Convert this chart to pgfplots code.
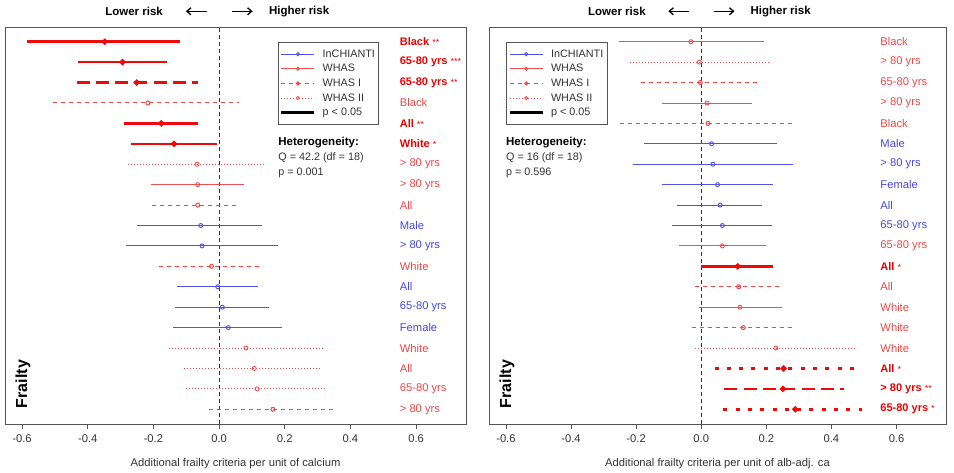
\documentclass[border=0pt]{standalone}
\usepackage{pgfplots}
\pgfplotsset{compat=1.18}
\usetikzlibrary{arrows.meta}
\usepackage{fontspec}
\setmainfont{Liberation Sans}

\definecolor{cblue}{RGB}{80,80,235}
\definecolor{clight}{RGB}{240,80,80}
\definecolor{cdash}{RGB}{245,70,70}
\definecolor{cbold}{RGB}{238,10,10}
\definecolor{tblue}{RGB}{70,70,230}
\definecolor{tlight}{RGB}{240,70,70}
\definecolor{tbold}{RGB}{235,0,0}
\definecolor{frame}{RGB}{85,85,85}

\newcommand{\regfont}{\fontsize{11.2bp}{13bp}\selectfont}
\newcommand{\boldfont}{\fontsize{11bp}{13bp}\selectfont\bfseries}
\newcommand{\stars}[1]{{\fontsize{9bp}{9bp}\selectfont\mdseries #1}}

% one confidence interval per row: y, lower, estimate, upper, style
\newcommand{\ci}[5]{\addplot[#5] coordinates {(#2,#1) (#3,#1) (#4,#1)};}
% row label: y, style, text
\newcommand{\lab}[3]{\node[anchor=west,inner sep=0pt,#2] at (axis cs:0.55,#1) {#3};}

\tikzset{
  tb/.style={text=tblue, font=\regfont},
  tl/.style={text=tlight, font=\regfont},
  ts/.style={text=tbold, font=\boldfont},
  risk/.style={-{Straight Barb[length=4bp,width=7bp]}, line width=1.3bp, black},
}

\pgfplotsset{
  inch/.style={forget plot, color=cblue, line width=0.9bp,
    mark=o, mark indices={2}, mark size=2bp},
  whas/.style={forget plot, color=clight, line width=0.9bp,
    mark=o, mark indices={2}, mark size=2bp},
  whasI/.style={forget plot, color=cdash, line width=1bp,
    dash pattern=on 4bp off 4bp,
    mark=o, mark indices={2}, mark size=2bp, every mark/.append style={solid}},
  whasII/.style={forget plot, color=clight, line width=0.9bp,
    dash pattern=on 1bp off 2bp,
    mark=o, mark indices={2}, mark size=2bp, every mark/.append style={solid}},
  sig/.style={forget plot, color=cbold, line width=2.6bp,
    mark=o, mark indices={2}, mark size=1.6bp},
  sigI/.style={forget plot, color=cbold, line width=2.6bp,
    dash pattern=on 13bp off 6.3bp,
    mark=o, mark indices={2}, mark size=1.6bp, every mark/.append style={solid}},
  sigII/.style={forget plot, color=cbold, line width=2.6bp,
    dash pattern=on 4bp off 8.3bp,
    mark=o, mark indices={2}, mark size=1.6bp, every mark/.append style={solid}},
  forest/.style={
    scale only axis, clip=false,
    xmin=-0.652, xmax=0.752, ymin=0.28, ymax=19.72,
    axis line style={frame, line width=0.9bp},
    xtick={-0.6,-0.4,-0.2,0,0.2,0.4,0.6},
    xticklabels={-0.6,-0.4,-0.2,0.0,0.2,0.4,0.6},
    xtick pos=bottom, tick align=outside, ytick=\empty,
    major tick length=5bp,
    every tick/.style={frame, line width=0.8bp},
    ticklabel style={font=\regfont, text=black!80},
    xticklabel style={yshift=-2bp},
    label style={font=\regfont, text=black!80},
    xlabel style={at={(axis description cs:0.5,0)}, anchor=center, yshift=-40bp},
    legend cell align=left,
    legend style={draw=frame, line width=0.9bp, fill=white,
      font=\fontsize{10.8bp}{12bp}\selectfont, text=black!80,
      inner xsep=2bp, inner ysep=5.5bp, row sep=1.6bp, column sep=5bp,
      anchor=north west},
    legend image code/.code={\draw[mark repeat=2,mark phase=2]
      plot coordinates {(0bp,0bp) (16.5bp,0bp) (33bp,0bp)};},
  },
}

\newcommand{\legendset}{%
  \addlegendimage{color=cblue, line width=0.9bp, mark=o, mark size=1.6bp}
  \addlegendentry{InCHIANTI}
  \addlegendimage{color=clight, line width=0.9bp, mark=o, mark size=1.6bp}
  \addlegendentry{WHAS}
  \addlegendimage{color=cdash, line width=1bp, dash pattern=on 4bp off 4bp, mark=o, mark size=1.6bp, every mark/.append style={solid}}
  \addlegendentry{WHAS I}
  \addlegendimage{color=clight, line width=0.9bp, dash pattern=on 1bp off 2bp, mark=o, mark size=1.6bp, every mark/.append style={solid}}
  \addlegendentry{WHAS II}
  \addlegendimage{color=black, line width=2.6bp}
  \addlegendentry{p < 0.05}
  \addplot[forget plot, color=black!80, line width=0.8bp, dash pattern=on 4bp off 3bp]
    coordinates {(0,0.28) (0,19.72)};
  \node[font=\fontsize{11.5bp}{13bp}\selectfont\bfseries] at (axis cs:-0.259,20.49) {Lower risk};
  \draw[risk] (axis cs:-0.037,20.49) -- (axis cs:-0.101,20.49);
  \draw[risk] (axis cs:0.040,20.49) -- (axis cs:0.102,20.49);
  \node[font=\fontsize{11.5bp}{13bp}\selectfont\bfseries] at (axis cs:0.244,20.49) {Higher risk};
  \node[rotate=90, anchor=west, inner sep=0pt, font=\fontsize{16bp}{18bp}\selectfont\bfseries]
    at (axis cs:-0.597,1.05) {Frailty};
}

\begin{document}
\begin{tikzpicture}
\useasboundingbox (0,0) rectangle (954bp,473bp);

% ---------------- calcium ----------------
\begin{axis}[forest, at={(5bp,49bp)}, anchor=south west,
  width=461bp, height=397bp,
  xlabel={Additional frailty criteria per unit of calcium},
  legend style={at={(0.5915,0.963)}}]
\legendset
\ci{19}{-0.584}{-0.348}{-0.119}{sig}
\ci{18}{-0.430}{-0.294}{-0.158}{sig}
\ci{17}{-0.434}{-0.251}{-0.063}{sigI}
\ci{16}{-0.505}{-0.217}{0.060}{whasI}
\ci{15}{-0.290}{-0.176}{-0.064}{sig}
\ci{14}{-0.268}{-0.137}{-0.007}{sig}
\ci{13}{-0.278}{-0.067}{0.142}{whasII}
\ci{12}{-0.208}{-0.065}{0.075}{whas}
\ci{11}{-0.204}{-0.065}{0.063}{whasI}
\ci{10}{-0.251}{-0.056}{0.130}{inch}
\ci{9}{-0.283}{-0.052}{0.178}{inch}
\ci{8}{-0.182}{-0.023}{0.125}{whasI}
\ci{7}{-0.127}{-0.004}{0.118}{inch}
\ci{6}{-0.135}{0.010}{0.153}{inch}
\ci{5}{-0.140}{0.028}{0.191}{inch}
\ci{4}{-0.154}{0.082}{0.320}{whasII}
\ci{3}{-0.107}{0.107}{0.310}{whasII}
\ci{2}{-0.101}{0.116}{0.326}{whasII}
\ci{1}{-0.030}{0.164}{0.355}{whasI}
\lab{19}{ts}{Black \stars{**}}
\lab{18}{ts}{65-80 yrs \stars{***}}
\lab{17}{ts}{65-80 yrs \stars{**}}
\lab{16}{tl}{Black}
\lab{15}{ts}{All \stars{**}}
\lab{14}{ts}{White \stars{*}}
\lab{13}{tl}{> 80 yrs}
\lab{12}{tl}{> 80 yrs}
\lab{11}{tl}{All}
\lab{10}{tb}{Male}
\lab{9}{tb}{> 80 yrs}
\lab{8}{tl}{White}
\lab{7}{tb}{All}
\lab{6}{tb}{65-80 yrs}
\lab{5}{tb}{Female}
\lab{4}{tl}{White}
\lab{3}{tl}{All}
\lab{2}{tl}{65-80 yrs}
\lab{1}{tl}{> 80 yrs}
\node[anchor=west, inner sep=0pt, font=\fontsize{11.5bp}{13bp}\selectfont\bfseries] at (axis cs:0.180,14.05) {Heterogeneity:};
\node[anchor=west, inner sep=0pt, text=black!80, font=\fontsize{10.8bp}{12bp}\selectfont] at (axis cs:0.180,13.30) {Q = 42.2 (df = 18)};
\node[anchor=west, inner sep=0pt, text=black!80, font=\fontsize{10.8bp}{12bp}\selectfont] at (axis cs:0.180,12.56) {p = 0.001};
\end{axis}

% ---------------- albumin-adjusted calcium ----------------
\begin{axis}[forest, at={(489bp,49bp)}, anchor=south west,
  width=457bp, height=397bp,
  xlabel={Additional frailty criteria per unit of alb-adj. ca},
  legend style={at={(0.0372,0.963)}}]
\legendset
\ci{19}{-0.254}{-0.032}{0.193}{whas}
\ci{18}{-0.220}{-0.006}{0.210}{whasII}
\ci{17}{-0.184}{-0.003}{0.175}{whasI}
\ci{16}{-0.122}{0.018}{0.155}{whas}
\ci{15}{-0.251}{0.021}{0.287}{whasI}
\ci{14}{-0.177}{0.032}{0.233}{inch}
\ci{13}{-0.209}{0.036}{0.282}{inch}
\ci{12}{-0.122}{0.050}{0.221}{inch}
\ci{11}{-0.073}{0.058}{0.186}{inch}
\ci{10}{-0.091}{0.065}{0.216}{inch}
\ci{9}{-0.068}{0.065}{0.200}{whas}
\ci{8}{0.000}{0.112}{0.222}{sig}
\ci{7}{-0.020}{0.115}{0.246}{whasI}
\ci{6}{-0.008}{0.119}{0.248}{whas}
\ci{5}{-0.028}{0.129}{0.282}{whasI}
\ci{4}{-0.020}{0.229}{0.477}{whasII}
\ci{3}{0.041}{0.253}{0.468}{sigII}
\ci{2}{0.071}{0.251}{0.439}{sigI}
\ci{1}{0.068}{0.289}{0.495}{sigII}
\lab{19}{tl}{Black}
\lab{18}{tl}{> 80 yrs}
\lab{17}{tl}{65-80 yrs}
\lab{16}{tl}{> 80 yrs}
\lab{15}{tl}{Black}
\lab{14}{tb}{Male}
\lab{13}{tb}{> 80 yrs}
\lab{12}{tb}{Female}
\lab{11}{tb}{All}
\lab{10}{tb}{65-80 yrs}
\lab{9}{tl}{65-80 yrs}
\lab{8}{ts}{All \stars{*}}
\lab{7}{tl}{All}
\lab{6}{tl}{White}
\lab{5}{tl}{White}
\lab{4}{tl}{White}
\lab{3}{ts}{All \stars{*}}
\lab{2}{ts}{> 80 yrs \stars{**}}
\lab{1}{ts}{65-80 yrs \stars{*}}
\node[anchor=west, inner sep=0pt, font=\fontsize{11.5bp}{13bp}\selectfont\bfseries] at (axis cs:-0.600,14.05) {Heterogeneity:};
\node[anchor=west, inner sep=0pt, text=black!80, font=\fontsize{10.8bp}{12bp}\selectfont] at (axis cs:-0.600,13.30) {Q = 16 (df = 18)};
\node[anchor=west, inner sep=0pt, text=black!80, font=\fontsize{10.8bp}{12bp}\selectfont] at (axis cs:-0.600,12.56) {p = 0.596};
\end{axis}
\end{tikzpicture}
\end{document}
